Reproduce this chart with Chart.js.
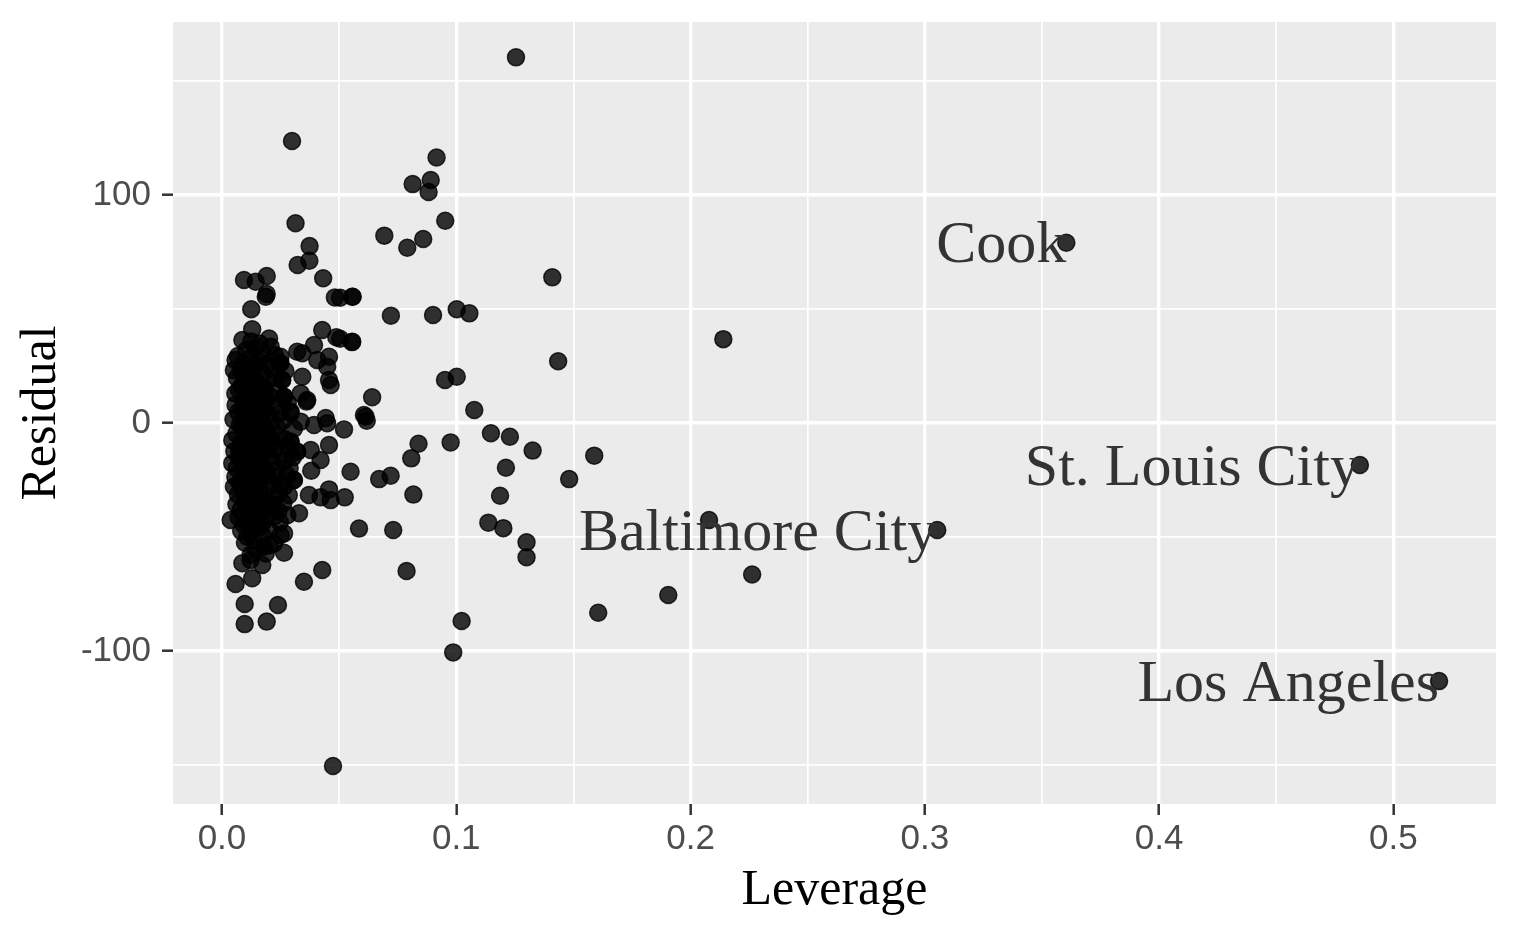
<!DOCTYPE html>
<html>
<head>
<meta charset="utf-8">
<script src="https://cdn.jsdelivr.net/npm/chart.js@4/dist/chart.umd.min.js"></script>
<style>
  body { margin: 0; background: #ffffff; }
</style>
</head>
<body>
<canvas id="grafico" width="1518" height="938"></canvas>
<script>
// leverage / residual pairs
const leverage = [
  0.1255, 0.0916, 0.0814, 0.0891, 0.0882, 0.0953, 0.0693, 0.0859, 0.0791, 0.1410,
  0.0558, 0.0504, 0.0721, 0.0901, 0.1002, 0.1056, 0.0555, 0.0504, 0.1435, 0.0952,
  0.1002, 0.0641, 0.0606, 0.1077, 0.0299, 0.0314, 0.0374, 0.0323, 0.0373, 0.0432,
  0.0482, 0.0556, 0.0094, 0.0144, 0.0191, 0.0191, 0.0187, 0.0125, 0.0129, 0.0428,
  0.0488, 0.0556, 0.0393, 0.0321, 0.0250, 0.0457, 0.0343, 0.0449, 0.0407, 0.0343,
  0.0336, 0.0457, 0.0464, 0.0364, 0.0257, 0.0250, 0.0265, 0.0361, 0.0449, 0.0521,
  0.0613, 0.0293, 0.0393, 0.0443, 0.0618, 0.0549, 0.0671, 0.0720, 0.0457, 0.0524,
  0.0464, 0.0421, 0.0457, 0.0371, 0.0585, 0.0307, 0.0321, 0.0293, 0.0839, 0.0808,
  0.0976, 0.1148, 0.1229, 0.1326, 0.1589, 0.1212, 0.1482, 0.0817, 0.1187, 0.0731,
  0.1137, 0.1201, 0.1300, 0.1300, 0.0788, 0.1606, 0.1023, 0.0987, 0.0474, 0.2140,
  0.2079, 0.2263, 0.1905, 0.0172, 0.0122, 0.0087, 0.0058, 0.0129, 0.0097, 0.0239,
  0.0097, 0.0191, 0.0428, 0.0350,
  // dense cluster
  0.0087, 0.0125, 0.0161, 0.0201, 0.0208, 0.0104, 0.0142, 0.0068, 0.0175, 0.0226,
  0.0058, 0.0093, 0.0119, 0.0137, 0.0158, 0.0189, 0.0213, 0.0246, 0.0271, 0.0079,
  0.0051, 0.0064, 0.0098, 0.0111, 0.0132, 0.0149, 0.0171, 0.0196, 0.0229, 0.0257, 0.0084, 0.0123,
  0.0057, 0.0072, 0.0103, 0.0138, 0.0162, 0.0184, 0.0207, 0.0238, 0.0265, 0.0091, 0.0117, 0.0153,
  0.0058, 0.0069, 0.0087, 0.0109, 0.0131, 0.0146, 0.0178, 0.0198, 0.0219, 0.0247, 0.0293, 0.0281,
  0.0049, 0.0076, 0.0095, 0.0113, 0.0127, 0.0144, 0.0167, 0.0186, 0.0211, 0.0234, 0.0262, 0.0336, 0.0307,
  0.0044, 0.0061, 0.0083, 0.0101, 0.0122, 0.0139, 0.0157, 0.0174, 0.0193, 0.0216, 0.0241, 0.0269, 0.0293,
  0.0053, 0.0071, 0.0092, 0.0108, 0.0129, 0.0148, 0.0165, 0.0183, 0.0204, 0.0227, 0.0255, 0.0286, 0.0321, 0.0379, 0.0302,
  0.0044, 0.0063, 0.0081, 0.0098, 0.0116, 0.0134, 0.0152, 0.0171, 0.0192, 0.0213, 0.0238, 0.0264, 0.0289, 0.0381, 0.0421,
  0.0057, 0.0074, 0.0096, 0.0112, 0.0131, 0.0149, 0.0168, 0.0187, 0.0209, 0.0231, 0.0252, 0.0278, 0.0307,
  0.0051, 0.0068, 0.0089, 0.0106, 0.0124, 0.0143, 0.0161, 0.0181, 0.0198, 0.0222, 0.0244, 0.0265, 0.0285,
  0.0062, 0.0079, 0.0099, 0.0118, 0.0137, 0.0156, 0.0176, 0.0195, 0.0218, 0.0241, 0.0262, 0.0329,
  0.0037, 0.0071, 0.0093, 0.0114, 0.0133, 0.0152, 0.0172, 0.0191, 0.0222, 0.0279, 0.0247,
  0.0082, 0.0098, 0.0121, 0.0137, 0.0158, 0.0177, 0.0203, 0.0250, 0.0265, 0.0222, 0.0108,
  0.0179, 0.0187, 0.0265, 0.0146, 0.0122, 0.0203,
  0.0106, 0.0148, 0.0185, 0.0074, 0.0133, 0.0169, 0.0116, 0.0154, 0.0092, 0.0201,
  0.0127, 0.0163, 0.0088, 0.0141, 0.0179, 0.0103, 0.0136, 0.0159
];
const residual = [
  160.4, 116.5, 104.8, 106.6, 101.3, 88.7, 82.2, 80.7, 76.9, 63.9,
  55.4, 55.0, 47.1, 47.4, 49.9, 48.1, 35.5, 37.0, 27.1, 18.9,
  20.3, 11.3, 3.5, 5.7, 123.7, 87.6, 77.6, 69.3, 71.2, 63.5,
  55.1, 55.4, 62.7, 62.0, 64.5, 56.6, 55.4, 49.9, 41.1, 40.8,
  37.6, 35.7, 34.2, 31.3, 29.1, 29.1, 30.6, 24.7, 27.6, 20.3,
  13.0, 18.9, 16.7, 10.1, 18.9, 26.2, 11.5, 9.4, -0.1, -2.8,
  2.8, 4.3, -0.9, 2.2, 1.0, -21.4, -24.6, -23.1, -9.6, -32.6,
  -33.8, -32.6, -29.1, -31.6, -46.3, -25.0, -12.6, -8.2, -9.1, -15.5,
  -8.5, -4.5, -6.0, -12.1, -14.3, -19.6, -24.6, -31.4, -31.9, -46.9,
  -43.7, -46.1, -52.3, -58.9, -64.9, -83.2, -86.8, -100.6, -150.4, 36.8,
  -42.5, -66.4, -75.4, -62.3, -60.1, -61.5, -70.6, -68.1, -79.4, -79.8,
  -88.2, -87.1, -64.5, -69.6,
  // dense cluster
  36.4, 35.8, 34.9, 37.1, 33.5, 31.9, 32.7, 29.4, 30.2, 29.8,
  27.6, 26.1, 28.3, 24.9, 27.2, 25.6, 24.1, 26.3, 22.8, 23.4,
  23.2, 19.8, 21.5, 18.2, 20.7, 17.4, 21.9, 18.8, 20.1, 18.9, 16.3, 15.1,
  12.9, 14.6, 11.8, 13.4, 10.7, 14.2, 11.5, 13.7, 11.5, 9.6, 8.2, 7.4,
  7.9, 4.8, 6.1, 3.2, 5.6, 2.4, 6.9, 3.8, 7.2, 4.6, 5.0, 8.9,
  1.5, -0.8, 1.9, -2.1, 0.7, -1.6, 1.2, -2.9, 0.3, -1.4, 1.1, 0.6, -2.5,
  -7.5, -4.7, -8.9, -5.3, -7.8, -4.2, -9.1, -6.4, -4.9, -8.3, -5.8, -7.1, -8.2,
  -12.4, -14.8, -11.3, -13.9, -10.6, -14.5, -12.1, -10.2, -14.7, -11.6, -13.2, -10.9, -12.6, -11.8, -15.1,
  -17.7, -19.9, -16.5, -20.4, -17.8, -21.2, -16.9, -19.3, -21.6, -17.4, -20.1, -16.8, -19.7, -20.9, -16.2,
  -23.6, -26.1, -22.8, -25.4, -23.1, -26.7, -24.2, -22.3, -25.9, -23.8, -26.4, -22.9, -25.0,
  -27.9, -31.4, -29.2, -32.8, -28.6, -31.9, -29.7, -33.1, -28.3, -33.8, -30.5, -27.9, -31.7,
  -35.6, -38.2, -34.7, -37.9, -35.3, -38.8, -34.9, -37.4, -36.1, -38.6, -35.2, -39.6,
  -42.5, -41.3, -44.6, -40.8, -43.9, -41.7, -44.2, -40.5, -41.1, -40.4, -43.5,
  -47.3, -52.5, -48.6, -51.3, -45.5, -49.8, -47.1, -49.1, -48.4, -52.8, -49.9,
  -54.3, -57.2, -56.9, -55.6, -57.8, -53.6,
  4.1, -3.7, 9.8, -11.9, -18.6, 15.7, -28.9, -33.6, -24.4, -6.7,
  22.1, 1.8, -1.2, -39.7, -12.8, -43.1, 11.2, -21.8
];

// labelled counties
const nomes = ['Cook', 'St. Louis City', 'Baltimore City', 'Los Angeles'];
const nomesLeverage = [0.3604, 0.4857, 0.3053, 0.5195];
const nomesResidual = [79.1, -18.4, -46.9, -113.2];

const xTicks = [0, 0.05, 0.1, 0.15, 0.2, 0.25, 0.3, 0.35, 0.4, 0.45, 0.5];
const yTicks = [-150, -100, -50, 0, 50, 100, 150];

const pontos = leverage.map((v, i) => ({ x: v, y: residual[i] }));
const pontosNomes = nomesLeverage.map((v, i) => ({ x: v, y: nomesResidual[i] }));

const isMajorX = v => Math.abs(v * 10 - Math.round(v * 10)) < 1e-6;
const isMajorY = v => v % 100 === 0;

// grey panel behind the grid
const fundo = {
  id: 'fundo',
  beforeDraw(chart) {
    const { ctx, chartArea: a } = chart;
    ctx.save();
    ctx.fillStyle = '#EBEBEB';
    ctx.fillRect(a.left, a.top, a.right - a.left, a.bottom - a.top);
    ctx.restore();
  }
};

// county names, right aligned at their point
const rotulos = {
  id: 'rotulos',
  afterDatasetsDraw(chart) {
    const { ctx, scales } = chart;
    ctx.save();
    ctx.font = '60px "Liberation Serif", "Times New Roman", serif';
    ctx.fillStyle = '#333333';
    ctx.textAlign = 'right';
    ctx.textBaseline = 'middle';
    nomes.forEach((n, i) => {
      ctx.fillText(n, scales.x.getPixelForValue(nomesLeverage[i]), scales.y.getPixelForValue(nomesResidual[i]) + 4);
    });
    ctx.restore();
  }
};

const estiloPonto = {
  backgroundColor: 'rgba(0,0,0,0.8)',
  borderColor: 'rgba(0,0,0,0.8)',
  borderWidth: 1.5,
  pointRadius: 8.5,
  pointHoverRadius: 8.5
};

new Chart(document.getElementById('grafico'), {
  type: 'scatter',
  data: {
    datasets: [
      Object.assign({ data: pontos }, estiloPonto),
      Object.assign({ data: pontosNomes }, estiloPonto)
    ]
  },
  options: {
    responsive: false,
    animation: false,
    layout: { padding: { top: 22, right: 22, left: 0, bottom: 0 } },
    plugins: { legend: { display: false }, tooltip: { enabled: false } },
    scales: {
      x: {
        type: 'linear',
        min: -0.0209,
        max: 0.5438,
        afterBuildTicks: s => { s.ticks = xTicks.map(v => ({ value: v })); },
        afterFit: s => { s.height = 134; s.paddingLeft = 0; s.paddingRight = 0; },
        border: { display: false },
        grid: {
          color: '#ffffff',
          lineWidth: c => isMajorX(c.tick.value) ? 3.4 : 1.7,
          tickColor: c => isMajorX(c.tick.value) ? '#333333' : 'rgba(0,0,0,0)',
          tickWidth: 2.5,
          tickLength: 11
        },
        ticks: {
          autoSkip: false,
          maxRotation: 0,
          padding: 3,
          color: '#4D4D4D',
          font: { family: 'Liberation Sans', size: 35 },
          callback: v => isMajorX(v) ? v.toFixed(1) : ''
        },
        title: {
          display: true,
          text: 'Leverage',
          color: '#000000',
          font: { family: 'Liberation Serif', size: 50 },
          padding: { top: 0, bottom: 17 }
        }
      },
      y: {
        type: 'linear',
        min: -167.1,
        max: 175.9,
        afterBuildTicks: s => { s.ticks = yTicks.map(v => ({ value: v })); },
        afterFit: s => { s.width = 173; s.paddingTop = 0; s.paddingBottom = 0; },
        border: { display: false },
        grid: {
          color: '#ffffff',
          lineWidth: c => isMajorY(c.tick.value) ? 3.4 : 1.7,
          tickColor: c => isMajorY(c.tick.value) ? '#333333' : 'rgba(0,0,0,0)',
          tickWidth: 2.5,
          tickLength: 11
        },
        ticks: {
          autoSkip: false,
          padding: 11,
          color: '#4D4D4D',
          font: { family: 'Liberation Sans', size: 35 },
          callback: v => isMajorY(v) ? String(v) : ''
        },
        title: {
          display: true,
          text: 'Residual',
          color: '#000000',
          font: { family: 'Liberation Serif', size: 50 },
          padding: { top: 12, bottom: 0 }
        }
      }
    }
  },
  plugins: [fundo, rotulos]
});
</script>
</body>
</html>
